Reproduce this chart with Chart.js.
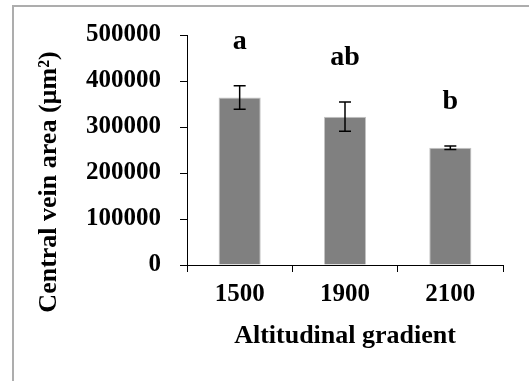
<!DOCTYPE html>
<html>
<head>
<meta charset="utf-8">
<script src="https://cdn.jsdelivr.net/npm/chart.js@4.4.1/dist/chart.umd.min.js"></script>
<style>
  html, body { margin: 0; padding: 0; background: #ffffff; }
  #wrap { position: relative; width: 529px; height: 381px; overflow: hidden; }
  #c { position: absolute; left: 0; top: 0; }
  #frame { position: absolute; left: 12px; top: 5px; width: 517px; height: 376px;
           border-top: 2px solid #adadad; border-left: 2px solid #adadad;
           box-sizing: border-box; pointer-events: none; }
</style>
</head>
<body>
<div id="wrap">
  <canvas id="c" width="529" height="381"></canvas>
  <div id="frame"></div>
</div>
<script>
// ---- data ----
const categories = ['1500', '1900', '2100'];
const meanArea = [364000, 322500, 255000];
const errArea = [25500, 32000, 3700];
const groupLetters = ['a', 'ab', 'b'];
const yTickValues = [0, 100000, 200000, 300000, 400000, 500000];
const xAxisTitle = 'Altitudinal gradient';
const yAxisTitle = 'Central vein area (\u00b5m\u00b2)';

const SERIF = '"Liberation Serif", "Times New Roman", Times, serif';

const annotate = {
  id: 'annotate',
  afterDatasetsDraw(chart) {
    const ctx = chart.ctx;
    const meta = chart.getDatasetMeta(0);
    const y = chart.scales.y;
    ctx.save();
    ctx.strokeStyle = '#000000';
    ctx.lineWidth = 1.5;
    meta.data.forEach((bar, i) => {
      const x = bar.x;
      const yHi = y.getPixelForValue(meanArea[i] + errArea[i]);
      const yLo = y.getPixelForValue(meanArea[i] - errArea[i]);
      const cap = 6;
      ctx.beginPath();
      ctx.moveTo(x, yHi); ctx.lineTo(x, yLo);
      ctx.moveTo(x - cap, yHi); ctx.lineTo(x + cap, yHi);
      ctx.moveTo(x - cap, yLo); ctx.lineTo(x + cap, yLo);
      ctx.stroke();
    });
    // significance letters
    ctx.fillStyle = '#000000';
    ctx.font = 'bold 28px ' + SERIF;
    ctx.textAlign = 'center';
    ctx.textBaseline = 'alphabetic';
    meta.data.forEach((bar, i) => {
      const yHi = y.getPixelForValue(meanArea[i] + errArea[i]);
      ctx.fillText(groupLetters[i], bar.x, yHi - 37);
    });
    ctx.restore();
  },
  afterDraw(chart) {
    const ctx = chart.ctx;
    const a = chart.chartArea;
    ctx.save();
    ctx.fillStyle = '#000000';
    ctx.font = 'bold 26px ' + SERIF;
    ctx.textAlign = 'center';
    ctx.textBaseline = 'alphabetic';
    ctx.fillText(xAxisTitle, (a.left + a.right) / 2, a.bottom + 78);
    ctx.translate(49, (a.top + a.bottom) / 2 + 32);
    ctx.rotate(-Math.PI / 2);
    ctx.textBaseline = 'middle';
    ctx.fillText(yAxisTitle, 0, 0);
    ctx.restore();
  }
};

new Chart(document.getElementById('c'), {
  type: 'bar',
  data: {
    labels: categories,
    datasets: [{
      data: meanArea,
      backgroundColor: '#808080',
      borderColor: '#c4c4c4',
      borderWidth: 1,
      barPercentage: 0.4,
      categoryPercentage: 1.0
    }]
  },
  options: {
    responsive: false,
    animation: false,
    devicePixelRatio: 1,
    layout: { padding: { left: 0, top: 35, right: 26, bottom: 0 } },
    plugins: { legend: { display: false }, tooltip: { enabled: false }, title: { display: false } },
    scales: {
      x: {
        grid: { display: true, drawOnChartArea: false, drawTicks: true, tickLength: 7, color: '#000000', offset: true },
        border: { display: true, color: '#000000', width: 1 },
        ticks: { color: '#000000', padding: 8, font: { family: SERIF, size: 25, weight: 'bold' }, maxRotation: 0 },
        afterFit(scale) { scale.height = 116; }
      },
      y: {
        min: 0, max: 500000,
        afterBuildTicks(scale) { scale.ticks = yTickValues.map(v => ({ value: v })); },
        grid: { display: true, drawOnChartArea: false, drawTicks: true, tickLength: 7, color: '#000000' },
        border: { display: true, color: '#000000', width: 1 },
        ticks: { color: '#000000', padding: 19, font: { family: SERIF, size: 25, weight: 'bold' },
                 callback: v => String(v) },
        afterFit(scale) { scale.width = 187; }
      }
    }
  },
  plugins: [annotate]
});
</script>
</body>
</html>
